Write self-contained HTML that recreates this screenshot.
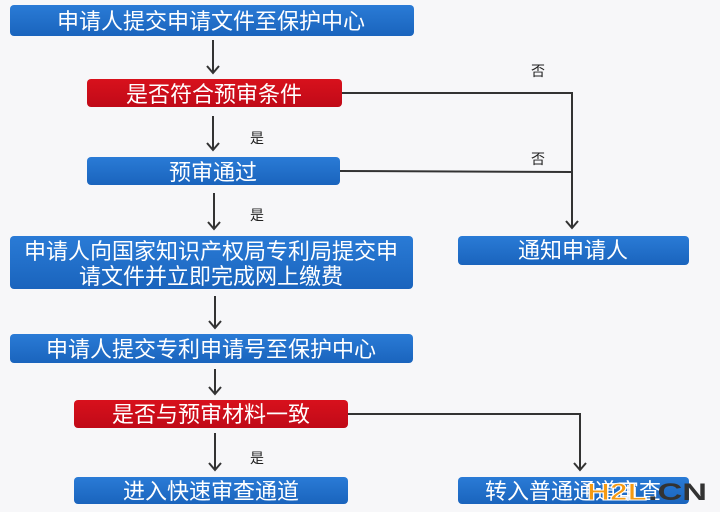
<!DOCTYPE html>
<html><head><meta charset="utf-8"><style>
html,body{margin:0;padding:0;background:#f7f7f9;}
svg{display:block}
text{font-family:"Liberation Sans","Noto Sans CJK SC",sans-serif;}
</style></head><body>
<svg width="720" height="512" viewBox="0 0 720 512" xmlns="http://www.w3.org/2000/svg">
<defs>
<linearGradient id="b" x1="0" y1="0" x2="0" y2="1"><stop offset="0" stop-color="#2a7bd6"/><stop offset="1" stop-color="#1a64bd"/></linearGradient>
<linearGradient id="r" x1="0" y1="0" x2="0" y2="1"><stop offset="0" stop-color="#d8111c"/><stop offset="1" stop-color="#c00a18"/></linearGradient>
</defs>
<rect width="720" height="512" fill="#f7f7f9"/>
<g stroke="#333" stroke-width="2" fill="none">
<line x1="213" y1="40" x2="213" y2="73"/><polyline points="207,66 213,73 219,66"/>
<line x1="213" y1="116" x2="213" y2="150"/><polyline points="207,143 213,150 219,143"/>
<line x1="214" y1="193" x2="214" y2="229"/><polyline points="208,222 214,229 220,222"/>
<line x1="215" y1="296" x2="215" y2="328"/><polyline points="209,321 215,328 221,321"/>
<line x1="215" y1="369" x2="215" y2="394"/><polyline points="209,387 215,394 221,387"/>
<line x1="215" y1="433" x2="215" y2="470"/><polyline points="209,463 215,470 221,463"/>
<polyline points="342,93 572,93 572,228"/><polyline points="566,221 572,228 578,221"/>
<line x1="340" y1="171" x2="572" y2="172"/>
<polyline points="348,414 580,414 580,470"/><polyline points="574,463 580,470 586,463"/>
</g>
<g font-size="14" fill="#222">
<text x="531" y="76">否</text><text x="531" y="164">否</text>
<text x="250" y="143">是</text><text x="250" y="220">是</text><text x="250" y="463">是</text>
</g>
<g fill="url(#b)">
<rect x="10" y="5" width="404" height="31" rx="4"/>
<rect x="87" y="157" width="253" height="28" rx="4"/>
<rect x="10" y="236" width="403" height="53" rx="4"/>
<rect x="10" y="334" width="403" height="29" rx="4"/>
<rect x="74" y="477" width="274" height="27" rx="4"/>
<rect x="458" y="236" width="231" height="29" rx="4"/>
<rect x="458" y="477" width="231" height="27" rx="4"/>
</g>
<g fill="url(#r)">
<rect x="87" y="79" width="255" height="28" rx="4"/>
<rect x="74" y="400" width="274" height="28" rx="4"/>
</g>
<g fill="#fff" font-size="22" text-anchor="middle">
<text x="211" y="29">申请人提交申请文件至保护中心</text>
<text x="214" y="102">是否符合预审条件</text>
<text x="213" y="180">预审通过</text>
<text x="211" y="259">申请人向国家知识产权局专利局提交申</text>
<text x="211" y="284">请文件并立即完成网上缴费</text>
<text x="211" y="357">申请人提交专利申请号至保护中心</text>
<text x="211" y="422">是否与预审材料一致</text>
<text x="211" y="499">进入快速审查通道</text>
<text x="573" y="258">通知申请人</text>
<text x="573" y="499">转入普通通道审查</text>
</g>
<text x="587" y="500" font-size="24" font-weight="bold" fill="#f59a12" stroke="#fff" stroke-width="1" textLength="60" lengthAdjust="spacingAndGlyphs">H2L</text>
<text x="648" y="500" font-size="24" font-weight="bold" fill="#333" textLength="59" lengthAdjust="spacingAndGlyphs">.CN</text>
</svg>
</body></html>
